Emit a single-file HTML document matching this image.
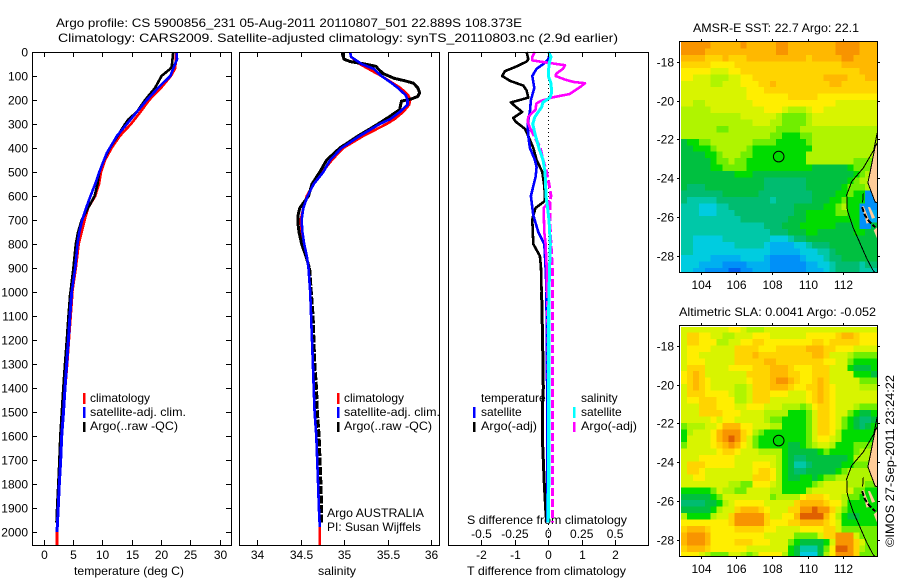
<!DOCTYPE html>
<html>
<head>
<meta charset="utf-8">
<title>Argo profile</title>
<style>
html,body{margin:0;padding:0;background:#fff;}
svg{display:block;font-family:"Liberation Sans",sans-serif;font-size:12px;fill:#000;}
</style>
</head>
<body>
<svg id="fig" xmlns="http://www.w3.org/2000/svg" width="900" height="580" viewBox="0 0 900 580">
<rect x="0" y="0" width="900" height="580" fill="#fff"/>
<defs>
<clipPath id="clipA"><rect x="680" y="42" width="197" height="230"/></clipPath>
<clipPath id="clipB"><rect x="680" y="327" width="197" height="229"/></clipPath>
</defs>
<text x="56" y="27" textLength="466" lengthAdjust="spacingAndGlyphs">Argo profile: CS 5900856_231 05-Aug-2011 20110807_501 22.889S 108.373E</text>
<text x="58" y="42" textLength="560" lengthAdjust="spacingAndGlyphs">Climatology: CARS2009. Satellite-adjusted climatology: synTS_20110803.nc (2.9d earlier)</text>
<text x="74" y="575" textLength="110" lengthAdjust="spacingAndGlyphs">temperature (deg C)</text>
<text x="318" y="575" textLength="38" lengthAdjust="spacingAndGlyphs">salinity</text>
<text x="467" y="575" textLength="159" lengthAdjust="spacingAndGlyphs">T difference from climatology</text>
<text x="467" y="524" textLength="160" lengthAdjust="spacingAndGlyphs">S difference from climatology</text>
<text x="693" y="32" textLength="166" lengthAdjust="spacingAndGlyphs">AMSR-E SST: 22.7  Argo: 22.1</text>
<text x="679" y="316" textLength="197" lengthAdjust="spacingAndGlyphs">Altimetric SLA: 0.0041  Argo: -0.052</text>
<text transform="translate(894,547) rotate(-90)" textLength="172" lengthAdjust="spacingAndGlyphs">©IMOS 27-Sep-2011 23:24:22</text>
<g>
<text x="90" y="402">climatology</text>
<text x="90" y="416" textLength="96" lengthAdjust="spacingAndGlyphs">satellite-adj. clim.</text>
<text x="90" y="430" textLength="88" lengthAdjust="spacingAndGlyphs">Argo(..raw -QC)</text>
<rect x="83" y="393" width="2.5" height="11" fill="#ff0000"/>
<rect x="83" y="407" width="2.5" height="11" fill="#0000ff"/>
<rect x="83" y="422" width="2.5" height="10" fill="#000"/>
</g>
<g>
<text x="344" y="402">climatology</text>
<text x="344" y="416" textLength="96" lengthAdjust="spacingAndGlyphs">satellite-adj. clim.</text>
<text x="344" y="430" textLength="88" lengthAdjust="spacingAndGlyphs">Argo(..raw -QC)</text>
<rect x="337" y="393" width="2.5" height="11" fill="#ff0000"/>
<rect x="337" y="407" width="2.5" height="11" fill="#0000ff"/>
<rect x="337" y="422" width="2.5" height="10" fill="#000"/>
<text x="327" y="517" textLength="97" lengthAdjust="spacingAndGlyphs">Argo AUSTRALIA</text>
<text x="327" y="531">PI: Susan Wijffels</text>
</g>
<g>
<text x="481" y="402">temperature</text>
<text x="481" y="416">satellite</text>
<text x="481" y="430" textLength="56" lengthAdjust="spacingAndGlyphs">Argo(-adj)</text>
<rect x="473" y="407" width="2.5" height="11" fill="#0000ff"/>
<rect x="473" y="422" width="2.5" height="10" fill="#000"/>
<text x="581" y="402">salinity</text>
<text x="581" y="416">satellite</text>
<text x="581" y="430" textLength="56" lengthAdjust="spacingAndGlyphs">Argo(-adj)</text>
<rect x="573" y="407" width="2.5" height="11" fill="#00ffff"/>
<rect x="573" y="422" width="2.5" height="10" fill="#ff00ff"/>
</g>
</svg>
<script>
// ---------- profile data ----------
const tempTicks = [0,5,10,15,20,25,30];
const salTicks = [34,34.5,35,35.5,36];
const salTickLabels = ['34','34.5','35','35.5','36'];
const depthTicks = [0,100,200,300,400,500,600,700,800,900,1000,1100,1200,1300,1400,1500,1600,1700,1800,1900,2000];
const diffTTicks = [-2,-1,0,1,2];
const diffSTicks = [-0.5,-0.25,0,0.25,0.5];
const diffSTickLabels = ['-0.5','-0.25','0','0.25','0.5'];

const climDepth = [0,50,70,100,150,200,250,300,350,400,450,500,550,600,650,700,750,800,900,1000,1100,1200,1300,1400,1500,1600,1700,1800,1900,2000,2054];
const climTemp = [22.6,22.5,22.4,21.7,20.0,18.0,16.5,14.9,13.0,11.6,10.5,9.8,9.45,8.8,7.6,7.0,6.5,6.0,5.5,4.9,4.6,4.3,4.0,3.66,3.4,3.1,2.93,2.7,2.5,2.3,2.3];
const satDepth = [0,30,70,100,150,200,250,300,350,400,420,450,500,550,600,650,700,750,800,900,1000,1100,1200,1300,1400,1500,1600,1700,1800,1900,2000];
const satTemp = [22.7,22.75,22.1,21.6,19.5,17.6,15.9,14.2,12.5,11.3,10.8,10.3,9.5,8.8,8.0,7.25,6.6,6.1,5.8,5.4,4.8,4.5,4.25,3.95,3.66,3.4,3.1,2.93,2.7,2.5,2.3];
const argoDepth = [0,60,70,100,150,200,220,250,280,300,350,400,450,500,550,600,650,700,750,800,900,1000,1100,1200,1300,1400,1500,1600,1700,1800,1900,1960];
const argoTemp = [22.1,21.85,21.6,20.1,19.0,17.3,16.75,15.9,14.5,13.9,12.6,11.3,10.3,9.5,9.2,8.7,7.6,6.5,5.9,5.5,5.1,4.6,4.3,4.0,3.7,3.4,3.15,2.9,2.75,2.55,2.35,2.25];

const climSalDepth = [0,20,50,100,150,180,200,220,250,280,300,350,400,450,500,550,600,650,700,750,800,850,900,1000,1100,1200,1300,1400,1500,1600,1700,1800,1900,1980,2054];
const climSal = [35.07,35.08,35.18,35.43,35.65,35.74,35.76,35.75,35.68,35.58,35.49,35.22,34.99,34.86,34.75,34.65,34.57,34.53,34.5,34.51,34.53,34.57,34.59,34.61,34.62,34.63,34.64,34.65,34.66,34.68,34.69,34.7,34.71,34.72,34.72];
const satSalDepth = [0,20,50,70,100,130,150,180,200,220,250,280,300,350,400,450,500,550,600,650,700,750,800,850,900,1000,1100,1200,1300,1400,1500,1600,1700,1800,1900,1980];
const satSal = [35.07,35.08,35.2,35.34,35.43,35.55,35.62,35.71,35.73,35.73,35.64,35.53,35.41,35.18,34.97,34.84,34.76,34.65,34.58,34.53,34.51,34.52,34.54,34.57,34.59,34.61,34.62,34.63,34.64,34.65,34.66,34.68,34.69,34.7,34.71,34.72];
const argoSalDepth = [0,10,30,40,50,60,70,90,110,120,130,150,170,185,195,205,240,270,300,320,350,400,420,450,500,550,600,650,680,720,750,800,850,900,1000,1100,1200,1300,1400,1500,1600,1700,1800,1900,1960];
const argoSal = [34.98,34.98,35.0,35.07,35.24,35.37,35.39,35.45,35.58,35.7,35.8,35.85,35.87,35.85,35.78,35.66,35.64,35.52,35.39,35.3,35.16,34.95,34.89,34.8,34.72,34.63,34.59,34.49,34.47,34.47,34.48,34.51,34.56,34.6,34.62,34.64,34.65,34.66,34.68,34.69,34.71,34.72,34.73,34.74,34.74];

const satDiffTDepth = [0,30,50,70,100,150,200,250,300,350,400,450,480,520,600,680,750,800,900,1000,1200,1400,1600,1800,1960];
const satDiffT = [0.05,0,-0.15,-0.35,-0.48,-0.42,-0.52,-0.55,-0.62,-0.6,-0.55,-0.4,-0.35,-0.38,-0.52,-0.45,-0.3,-0.12,-0.08,-0.05,-0.04,-0.03,-0.02,-0.02,-0.02];
const argoDiffTDepth = [0,30,40,60,80,100,120,140,160,190,200,210,225,250,275,290,320,350,400,450,500,560,600,620,650,680,700,800,850,900,1000,1200,1400,1500,1600,1700,1800,1900,1960];
const argoDiffT = [-0.65,-0.6,-0.65,-0.95,-1.3,-1.38,-1.15,-0.75,-0.65,-0.6,-0.85,-1.12,-1.0,-0.78,-1.05,-0.98,-0.7,-0.6,-0.45,-0.35,-0.18,-0.12,-0.1,-0.1,-0.38,-0.45,-0.48,-0.45,-0.25,-0.22,-0.2,-0.17,-0.15,-0.18,-0.18,-0.15,-0.12,-0.08,-0.05];
const argoDiffSDepth = [0,20,35,45,55,70,90,100,115,125,130,145,160,175,190,205,215,240,270,290,320,350,400,450,500,550,600,620,650,750,800,900,1000,1200,1400,1600,1800,1960];
const argoDiffS = [-0.1,-0.12,-0.12,0,0.125,0.11,0.06,0.055,0.125,0.19,0.275,0.24,0.2,0.16,0.025,-0.06,-0.09,-0.095,-0.15,-0.155,-0.135,-0.105,-0.06,-0.04,-0.012,0.005,0.02,0.012,0.012,0.015,0.02,0.03,0.03,0.03,0.03,0.03,0.03,0.03];
const rawDiffSDepth = [620,650,750,800,900,1000,1300,1700,1960];
const rawDiffS = [0.012,-0.035,-0.03,-0.02,-0.012,-0.01,-0.005,0.002,0.002];
const satDiffSDepth = [0,20,50,100,130,170,190,210,230,270,300,350,400,450,500,550,600,650,700,800,900,1000,1400,1800,1960];
const satDiffS = [0,0.02,0.005,0,0.02,0.025,0.012,-0.04,-0.05,-0.1,-0.117,-0.095,-0.07,-0.04,-0.025,-0.02,-0.017,-0.005,0.005,0.015,0.01,0.005,0.003,0.002,-0.002];

// ---------- map data (colour level per 1/3 degree cell) ----------
const mapLonTicks = [104,106,108,110,112];
const mapLatTicks = [18,20,22,24,26,28];
const mapLatTickLabels = ['-18','-20','-22','-24','-26','-28'];
const floatLon = 108.373;
const floatLat = 22.889;
const levelColours = ['#0060f0','#0090f8','#00b0f0','#00cce0','#00c8a8','#00bc70','#00c040','#00dc00','#70ee00','#b0f400','#d8f400','#ffee00','#ffd400','#ffb800','#f89400','#e06000'];
const sstLevels = [
[14,14,14,14,14,13,13,13,13,13,14,13,13,13,13,13,14,14,13,13,13,13,13,13,13,13,14,14,14,14,13,13,13],
[14,14,14,14,13,13,13,13,13,13,13,13,13,13,13,13,14,14,13,13,13,13,13,13,13,13,14,14,14,14,13,13,13],
[13,13,13,13,12,12,12,13,12,12,12,13,13,13,13,13,13,13,13,13,13,12,13,13,13,13,13,14,14,13,13,13,13],
[12,12,12,12,12,11,11,11,11,12,12,12,12,12,12,12,12,12,12,12,12,12,12,12,12,12,12,13,13,13,13,13,13],
[11,11,11,11,11,10,10,10,11,11,12,12,12,12,12,12,12,12,12,12,12,12,12,12,12,12,12,12,12,12,13,13,13],
[11,11,10,10,10,9,9,9,10,10,11,11,12,12,12,12,12,12,12,12,12,12,12,12,13,13,13,13,12,12,12,13,13],
[10,10,10,10,10,9,9,10,10,10,11,11,11,12,12,13,12,12,12,12,12,12,12,12,12,13,13,12,12,12,12,12,12],
[10,10,10,10,10,10,10,10,10,10,10,11,11,11,12,12,12,12,12,12,12,12,12,12,12,12,12,12,12,12,12,12,12],
[10,10,10,10,10,10,10,10,10,10,10,11,11,11,11,11,11,11,12,12,12,12,12,11,11,11,11,11,11,11,11,11,11],
[10,10,9,9,10,10,10,10,10,10,10,10,11,11,11,11,11,11,11,11,11,11,11,11,11,11,10,10,10,10,10,10,10],
[9,9,9,9,9,10,10,10,10,10,10,10,10,10,11,11,11,10,9,9,9,10,11,11,10,10,10,10,10,10,10,10,10],
[9,9,9,9,9,9,9,9,9,9,10,10,10,10,10,10,9,8,8,8,8,9,10,10,10,10,10,10,10,10,10,10,10],
[9,9,9,9,9,9,9,9,9,9,9,9,10,10,10,9,9,8,8,8,8,9,10,10,10,10,10,10,10,10,10,10,10],
[9,9,9,9,9,9,8,8,9,9,9,9,9,9,9,9,8,8,8,8,9,9,9,9,9,9,9,9,9,9,9,9,9],
[9,9,9,9,9,9,9,9,9,9,9,9,9,9,9,8,8,7,7,7,8,8,9,9,9,9,9,9,9,9,9,9,9],
[6,7,7,8,8,9,9,9,9,9,9,9,8,8,8,8,7,7,7,7,7,8,9,9,9,9,9,9,9,9,9,9,9],
[6,6,7,7,7,8,9,9,9,9,9,8,7,7,7,7,7,7,7,7,7,7,9,9,9,9,9,9,9,9,9,9,9],
[6,6,6,6,7,7,8,9,9,9,8,8,7,7,7,7,7,7,7,7,7,9,9,9,9,9,9,9,9,9,9,9,9],
[6,6,6,6,6,7,8,8,9,8,8,7,7,7,7,7,7,7,7,7,7,9,9,9,9,9,9,9,9,8,8,8,8],
[6,6,6,6,6,7,7,8,8,8,8,7,7,7,7,7,7,7,7,7,7,7,6,6,6,6,6,6,7,8,8,8,8],
[6,6,6,6,6,6,6,6,6,7,7,7,6,6,6,6,6,6,6,6,6,6,6,6,6,6,6,6,6,7,8,9,9],
[6,6,6,6,6,6,6,6,6,6,6,6,6,6,5,5,5,5,5,5,5,6,6,6,6,6,6,6,7,8,9,9,9],
[6,5,5,5,6,6,6,6,6,6,6,6,6,6,5,5,5,5,5,5,5,6,6,6,6,6,6,7,8,8,8,9,9],
[5,5,5,5,5,5,5,6,6,6,6,6,6,5,5,5,5,5,5,5,5,5,6,6,6,6,7,7,8,7,7,1,1],
[5,4,4,4,4,4,5,5,5,5,5,5,5,5,5,4,5,5,5,5,5,5,6,6,6,7,7,8,7,7,7,1,1],
[4,4,4,3,3,3,4,4,5,5,5,5,5,5,5,5,5,5,5,6,6,6,6,6,7,7,8,9,7,7,1,1,1],
[4,4,4,3,3,3,4,4,4,5,5,5,5,5,5,5,5,5,5,6,6,7,7,7,7,7,8,8,7,7,1,1,2],
[4,4,4,4,4,4,4,4,4,4,5,5,5,5,5,5,5,5,6,6,6,7,7,7,7,7,7,7,7,7,1,1,2],
[4,4,4,4,4,4,4,4,4,4,4,4,4,4,5,5,5,6,6,6,7,7,7,7,7,7,6,6,6,7,1,1,6],
[4,4,4,4,4,4,4,4,4,4,4,4,4,4,4,5,5,5,6,6,6,7,7,6,6,6,6,6,6,7,7,6,6],
[4,4,3,3,3,3,3,4,4,4,4,4,4,4,4,3,3,3,4,5,5,6,6,6,6,6,6,6,6,6,6,6,6],
[4,4,3,3,3,3,3,3,3,4,4,4,4,4,3,2,2,2,2,3,3,4,5,5,5,6,6,6,6,6,6,6,6],
[4,4,3,3,3,3,3,3,3,3,3,3,3,3,3,2,2,2,2,2,3,3,3,4,4,5,6,6,6,6,6,6,6],
[3,3,3,3,3,2,2,2,2,2,3,3,3,3,2,1,1,1,1,1,2,3,3,3,4,5,5,6,6,6,6,6,6],
[3,3,3,2,2,2,2,1,1,1,1,2,2,2,2,1,1,1,1,1,1,2,2,3,3,4,5,5,5,5,4,5,5],
[3,3,2,2,1,1,1,1,0,0,1,1,2,2,2,1,1,1,1,1,1,2,2,2,3,4,5,5,5,5,4,4,4]
];
const slaLevels = [
[10,10,10,10,10,10,10,10,11,11,10,9,9,9,10,10,10,10,10,10,10,10,10,10,10,10,10,10,10,10,10,10,10],
[10,12,12,11,11,10,10,9,9,10,10,10,11,11,11,10,10,10,10,10,10,11,11,11,11,11,12,13,13,12,11,11,11],
[10,12,12,11,11,11,9,9,10,10,11,11,12,12,11,11,11,11,11,11,11,11,12,12,11,12,12,12,12,12,11,11,11],
[10,11,11,11,11,10,10,10,10,12,12,12,12,11,11,11,12,12,12,12,12,13,13,13,12,12,11,11,11,10,10,10,10],
[10,11,11,10,10,10,10,10,10,12,12,12,13,12,12,12,12,12,12,12,12,12,13,13,12,10,10,10,9,8,8,8,8],
[10,11,11,11,10,10,10,10,10,12,12,12,12,12,13,13,12,12,12,12,12,12,12,12,11,11,10,10,8,7,7,7,7],
[10,12,12,12,10,10,10,10,11,11,11,11,12,12,12,13,13,13,12,11,11,11,12,12,12,10,10,10,7,6,6,6,7],
[11,12,13,12,10,10,10,10,10,10,10,12,12,12,12,13,13,13,12,12,11,11,12,12,12,10,10,10,10,7,7,7,6],
[11,12,13,12,11,10,10,10,10,10,10,11,12,12,12,13,14,14,13,12,11,11,12,13,12,10,10,10,10,10,8,8,8],
[10,12,13,12,11,10,10,10,10,9,9,10,12,12,12,13,13,13,12,11,11,12,12,13,12,11,10,10,10,10,9,9,9],
[10,12,12,12,11,11,11,11,10,9,9,10,12,12,12,11,11,11,10,10,10,11,12,13,12,11,10,10,10,10,10,10,10],
[10,11,11,12,12,12,11,11,11,9,9,10,12,12,12,10,10,10,10,10,10,11,12,13,12,11,10,10,10,10,10,10,10],
[10,10,10,12,12,12,11,11,11,10,10,11,11,11,10,10,10,9,9,9,8,9,11,12,12,11,10,10,10,9,8,8,8],
[10,10,10,12,12,12,12,11,11,11,10,10,10,10,9,9,9,9,7,7,7,8,10,12,12,11,10,10,8,7,6,6,7],
[10,10,10,10,10,11,10,11,11,10,10,10,10,10,9,8,8,7,7,7,7,8,10,12,12,11,10,8,7,6,5,5,6],
[8,9,9,9,10,10,11,13,13,13,11,11,10,10,10,9,9,7,7,7,7,8,10,12,12,11,10,8,7,6,5,6,7],
[7,9,10,10,10,11,13,14,14,14,12,11,9,8,7,7,7,7,7,7,7,8,10,12,12,11,9,7,7,7,7,7,7],
[7,10,10,10,10,11,13,14,15,14,12,10,8,7,7,7,7,7,7,7,7,8,10,11,11,10,9,7,7,7,7,7,7],
[8,10,10,10,10,11,12,13,14,13,11,10,8,7,7,7,7,7,6,6,7,8,9,10,10,9,7,7,7,8,8,8,8],
[10,10,10,10,10,10,11,12,12,11,10,10,10,9,9,9,9,7,6,6,6,6,6,7,8,7,7,7,7,8,9,9,9],
[10,10,10,11,11,11,11,11,11,10,10,10,10,10,10,10,9,7,6,5,5,6,6,6,6,6,6,6,7,9,9,9,9],
[10,12,12,12,11,11,11,11,11,10,10,10,11,11,11,10,9,7,6,4,4,5,6,6,6,6,6,7,7,8,8,8,9],
[10,12,12,11,10,10,10,10,10,10,10,10,11,12,12,11,9,7,6,5,5,6,6,6,6,6,7,8,9,9,9,9,9],
[10,10,11,11,10,10,10,10,10,10,10,10,12,12,12,11,9,7,6,6,7,7,6,7,8,8,9,9,9,9,9,9,9],
[10,10,10,10,10,10,10,10,9,9,8,8,11,11,11,10,9,7,7,7,7,7,8,9,10,10,10,10,9,9,9,8,8],
[7,7,7,7,7,8,10,9,9,8,8,10,10,10,10,9,9,7,7,7,7,9,10,10,10,10,10,10,10,8,8,7,7],
[6,6,6,6,6,7,8,10,10,10,10,10,10,10,10,8,9,9,9,9,11,12,12,12,11,10,10,9,8,8,7,7,7],
[5,5,5,5,6,6,7,9,10,11,11,11,11,11,10,10,10,10,10,12,13,13,13,13,12,11,11,9,7,7,7,7,7],
[6,6,6,6,6,7,9,10,10,12,13,13,13,12,11,10,10,10,12,12,14,14,15,14,14,12,10,8,7,7,7,7,7],
[9,7,7,7,7,9,10,10,12,14,14,14,14,14,12,10,10,11,11,13,15,15,15,15,13,11,9,7,6,6,7,7,7],
[11,11,11,11,11,11,11,11,12,14,14,14,14,14,12,11,11,11,12,12,13,13,13,13,12,11,10,7,7,7,7,7,7],
[12,13,13,13,12,11,11,11,11,12,12,12,12,12,11,11,10,10,10,10,11,11,11,11,12,12,10,8,8,8,8,8,8],
[13,14,14,14,13,11,11,11,11,11,11,11,11,11,10,10,10,10,10,8,8,8,8,10,12,12,14,14,14,10,8,8,8],
[13,14,14,14,13,11,11,11,11,12,12,12,11,11,11,10,10,10,8,7,6,6,6,6,7,10,14,14,14,12,10,8,8],
[12,13,13,13,12,11,11,11,11,11,11,10,10,10,10,10,10,10,7,6,4,4,4,6,8,11,15,15,14,12,9,8,8],
[11,11,11,10,9,8,8,8,10,10,9,8,9,11,11,11,11,9,7,6,3,3,3,6,9,11,14,14,14,12,8,8,8]
];
const landNorthLon = [113.95,113.78,113.49,113.38,113.78,113.95];
const landNorthLat = [22.1,22.39,23.74,24.25,25.23,25.3];
const landSouthLon = [113.95,113.7,113.95];
const landSouthLat = [26.5,26.7,27.25];
const islandOneLon = [113.38,113.5,113.78,113.6];
const islandOneLat = [25.5,25.5,26.05,26.1];
const islandTwoLon = [113.05,113.15,113.5,113.3];
const islandTwoLat = [25.45,25.45,26.3,26.35];
const isobathLon = [113.9,113.71,113.12,112.47,112.19,112.22,112.56,112.93,113.3,113.65,113.8];
const isobathLat = [21.67,22.55,23.48,24.18,24.87,25.65,26.58,27.35,28.13,28.75,28.9];
const coastLon = [113.95,113.78,113.49,113.38,113.78,113.95];
const coastLat = [22.1,22.39,23.74,24.25,25.23,25.3];
const bayMarkLon = [113.05,113.2,113.45,113.8];
const bayMarkLat = [25.5,25.9,26.25,26.55];
const bayBarLon = [113.12,113.08];
const bayBarLat = [24.8,25.25];

// ---------- helpers ----------
const SVGNS = 'http://www.w3.org/2000/svg';
const fig = document.getElementById('fig');
function mk(tag, props, parent) {
  const e = document.createElementNS(SVGNS, tag);
  for (const k in props) e.setAttribute(k, props[k]);
  (parent || fig).appendChild(e);
  return e;
}
const depthY = d => 52 + d * 0.24;
const tempX = t => 43.5 + t * 5.87;
const salX = s => 257.3 + (s - 34) * 86.8;
const diffTX = t => 548.3 + t * 33.4;
const diffSX = s => 548.3 + s * 133.6;
const lonX = lon => 700.7 + (lon - 104) * 17.83;
const latYA = lat => 62 + (lat - 18) * 19.35;
const latYB = lat => 346 + (lat - 18) * 19.35;

function pointsFor(depths, vals, xf, from, to) {
  const pts = [];
  depths.forEach((d, i) => {
    if (d >= from && d <= to) pts.push(xf(vals[i]).toFixed(1) + ',' + depthY(d).toFixed(1));
  });
  return pts.join(' ');
}
function drawProfile(name, depths, vals, xf, colour, width, dashFrom, dash, deepWidth) {
  const solid = mk('polyline', {points: pointsFor(depths, vals, xf, 0, dashFrom), fill: 'none', stroke: colour, 'stroke-width': width, 'shape-rendering': 'crispEdges', 'stroke-linejoin': 'round'});
  
  
  const props = {points: pointsFor(depths, vals, xf, dashFrom, 9999), fill: 'none', stroke: colour, 'stroke-width': deepWidth, 'shape-rendering': 'crispEdges'};
  if (dash) props['stroke-dasharray'] = dash;
  const deep = mk('polyline', props);
  
  
}
function frame(name, x, y, w, h) {
  const r = mk('rect', {x: x + 0.5, y: y + 0.5, width: w, height: h, fill: 'none', stroke: '#000', 'stroke-width': 1, 'shape-rendering': 'crispEdges'});
  
  
}
function tick(name, x1, y1, x2, y2) {
  const l = mk('line', {x1: x1, y1: y1, x2: x2, y2: y2, stroke: '#000', 'stroke-width': 1, 'shape-rendering': 'crispEdges'});
  
  
}
function label(name, str, x, y, anchor) {
  const t = mk('text', {x: x, y: y, 'text-anchor': anchor});
  t.textContent = str;
  
  
}
function profileXTicks(ticks, labels, xf, panel) {
  ticks.forEach((v, i) => {
    const x = Math.round(xf(v)) + 0.5;
    tick(panel + '-x-tick', x, 540, x, 545);
    tick(panel + '-x-tick-top', x, 52, x, 57);
    label(panel + '-x-tick-label', labels[i], x, 559, 'middle');
  });
}

// ---------- profile panels ----------
drawProfile('temperature-climatology-line', climDepth, climTemp, tempX, '#ff0000', 2.6, 1000, null, 3);
drawProfile('temperature-argo-line', argoDepth, argoTemp, tempX, '#000000', 2.6, 1000, null, 3);
drawProfile('temperature-satellite-line', satDepth, satTemp, tempX, '#0000ff', 2.6, 1000, null, 3);
frame('temperature-panel-frame', 32, 52, 199, 493);
profileXTicks(tempTicks, tempTicks.map(String), tempX, 'temperature');
depthTicks.forEach(d => {
  const y = Math.round(depthY(d)) + 0.5;
  tick('depth-tick-left', 32, y, 37, y);
  tick('depth-tick-right', 226, y, 231, y);
  label('depth-tick-label', String(d), 28, y + 4, 'end');
});

drawProfile('salinity-climatology-line', climSalDepth, climSal, salX, '#ff0000', 2.6, 1000, null, 2.6);
drawProfile('salinity-argo-line', argoSalDepth, argoSal, salX, '#000000', 3, 900, '8 1.5', 3.4);
drawProfile('salinity-satellite-line', satSalDepth, satSal, salX, '#0000ff', 2.6, 1000, null, 2.6);
frame('salinity-panel-frame', 239, 52, 200, 493);
profileXTicks(salTicks, salTickLabels, salX, 'salinity');

const zeroLine = mk('line', {x1: diffTX(0), y1: 52, x2: diffTX(0), y2: 545, stroke: '#000', 'stroke-width': 1, 'stroke-dasharray': '1 3', 'shape-rendering': 'crispEdges'});


drawProfile('t-difference-argo-line', argoDiffTDepth, argoDiffT, diffTX, '#000000', 2.6, 1000, null, 3);
drawProfile('t-difference-satellite-line', satDiffTDepth, satDiffT, diffTX, '#0000ff', 2.6, 1000, null, 3);
drawProfile('s-difference-raw-line', rawDiffSDepth, rawDiffS, diffSX, '#ff00ff', 2.6, 1000, '6 3', 2);
drawProfile('s-difference-argo-line', argoDiffSDepth, argoDiffS, diffSX, '#ff00ff', 2.6, 320, '8 3', 3);
drawProfile('s-difference-satellite-line', satDiffSDepth, satDiffS, diffSX, '#00ffff', 3, 1000, null, 3.4);
frame('difference-panel-frame', 448, 52, 200, 493);
profileXTicks(diffTTicks, diffTTicks.map(String), diffTX, 't-difference');
diffSTicks.forEach((v, i) => {
  label('s-difference-tick-label', diffSTickLabels[i], diffSX(v), 538, 'middle');
});

// ---------- maps ----------
function poly(name, lons, lats, latY, attrs, tag, parent) {
  const pts = lons.map((lon, i) => lonX(lon).toFixed(1) + ',' + latY(lats[i]).toFixed(1)).join(' ');
  const props = Object.assign({points: pts}, attrs);
  const e = mk(tag, props, parent);
  
  
}
function drawMap(prefix, levels, latY, clipId, top, height) {
  const g = mk('g', {'clip-path': 'url(#' + clipId + ')'});
  
  
  levels.forEach((row, r) => {
    row.forEach((lv, c) => {
      const x0 = lonX(102.895 + c / 3), x1 = lonX(102.895 + (c + 1) / 3);
      const y0 = latY(16.97 + r / 3), y1 = latY(16.97 + (r + 1) / 3);
      const cell = mk('rect', {x: x0.toFixed(1), y: y0.toFixed(1), width: (x1 - x0 + 0.4).toFixed(1), height: (y1 - y0 + 0.4).toFixed(1), fill: levelColours[lv], 'shape-rendering': 'crispEdges'}, g);
      
      
    });
  });
  const landFill = {fill: '#ffcc99', stroke: 'none'};
  poly('land-north', landNorthLon, landNorthLat, latY, landFill, 'polygon', g);
  poly('land-south', landSouthLon, landSouthLat, latY, landFill, 'polygon', g);
  poly('bay-island', islandOneLon, islandOneLat, latY, landFill, 'polygon', g);
  poly('bay-island', islandTwoLon, islandTwoLat, latY, landFill, 'polygon', g);
  const thin = {fill: 'none', stroke: '#000', 'stroke-width': 1, 'shape-rendering': 'crispEdges'};
  poly('isobath-line', isobathLon, isobathLat, latY, thin, 'polyline', g);
  poly('coastline', coastLon, coastLat, latY, thin, 'polyline', g);
  const thick = {fill: 'none', stroke: '#000', 'stroke-width': 2, 'stroke-dasharray': '5 2', 'shape-rendering': 'crispEdges'};
  poly('bay-coastline', bayMarkLon, bayMarkLat, latY, thick, 'polyline', g);
  poly('bay-peninsula', bayBarLon, bayBarLat, latY, thin, 'polyline', g);
  const marker = mk('circle', {cx: lonX(floatLon).toFixed(1), cy: latY(floatLat).toFixed(1), r: 5.3, fill: 'none', stroke: '#000', 'stroke-width': 1});
  
  
  const f = mk('rect', {x: 679.5, y: top + 0.5, width: 198, height: height, fill: 'none', stroke: '#000', 'stroke-width': 1, 'shape-rendering': 'crispEdges'});
  
  
  mapLonTicks.forEach(lon => {
    const x = Math.round(lonX(lon)) + 0.5;
    tick(prefix + '-lon-tick', x, top - 2, x, top);
    tick(prefix + '-lon-tick-bottom', x, top + height, x, top + height + 3);
    label(prefix + '-lon-tick-label', String(lon), x, top + height + 17, 'middle');
  });
  mapLatTicks.forEach((lat, i) => {
    const y = Math.round(latY(lat)) + 0.5;
    tick(prefix + '-lat-tick', 677, y, 680, y);
    tick(prefix + '-lat-tick-right', 878, y, 880, y);
    label(prefix + '-lat-tick-label', mapLatTickLabels[i], 674, y + 4, 'end');
  });
}
drawMap('sst', sstLevels, latYA, 'clipA', 41, 231);
drawMap('sla', slaLevels, latYB, 'clipB', 325, 231);
</script>
</body>
</html>
